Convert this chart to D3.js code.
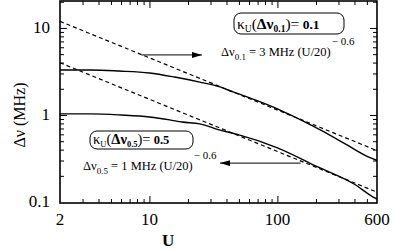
<!DOCTYPE html>
<html>
<head>
<meta charset="utf-8">
<script src="https://cdn.jsdelivr.net/npm/d3@7"></script>
<style>
  body { margin: 0; background: #fff; font-family: "Liberation Serif"; }
  text, tspan { font-family: "Liberation Serif" !important; }
</style>
</head>
<body>
<script>
const width = 394, height = 250;
const margin = { left: 60, right: 17, top: 1, bottom: 47 };
const w = width - margin.left - margin.right;
const h = height - margin.top - margin.bottom;

// solid curves
const U_upper = [2, 3.5, 5.8, 10, 15.7, 24.7, 35.6, 45, 67, 105, 152, 218, 344, 513, 600];
const v_upper = [3.29, 3.29, 3.2, 3.04, 2.73, 2.39, 2.1, 1.84, 1.49, 1.14, 0.88, 0.67, 0.46, 0.33, 0.30];
const U_lower = [2, 3.5, 6, 10, 14.4, 18, 24.7, 35.6, 48.6, 100, 207, 400, 560, 600];
const v_lower = [1.03, 1.03, 1.0, 0.95, 0.88, 0.83, 0.79, 0.67, 0.60, 0.42, 0.253, 0.16, 0.114, 0.108];
// dashed power laws (end points)
const U_fit = [2, 600];
const v_fit01 = [11.9, 0.39];
const v_fit05 = [3.98, 0.13];

const xMajor = [10, 100];
const xLabels = [2, 10, 100, 600];
const xMinor = [3, 4, 5, 6, 7, 8, 9, 20, 30, 40, 50, 60, 70, 80, 90, 200, 300, 400, 500];
const yMajor = [1, 10];
const yLabels = [0.1, 1, 10];
const yMinor = [0.2, 0.3, 0.4, 0.5, 0.6, 0.7, 0.8, 0.9, 2, 3, 4, 5, 6, 7, 8, 9, 20];

const svg = d3.select('body').append('svg')
  .attr('width', width).attr('height', height);
const g = svg.append('g').attr('transform', `translate(${margin.left},${margin.top})`);

const x = d3.scaleLog().domain([2, 600]).range([0, w]);
const y = d3.scaleLog().domain([0.0975, 20.4]).range([h, 0]);

svg.append('defs').append('marker')
  .attr('id', 'arr').attr('viewBox', '0 0 10 6')
  .attr('refX', 10).attr('refY', 3)
  .attr('markerWidth', 10).attr('markerHeight', 6)
  .attr('markerUnits', 'userSpaceOnUse').attr('orient', 'auto')
  .append('path').attr('d', 'M0,0 L10,3 L0,6 z').attr('fill', '#000');

// ticks (inside on all sides)
let tickAxis = (axis, vals, len, tr) => {
  const a = g.append('g').attr('transform', tr)
    .call(axis.tickValues(vals).tickSize(-len).tickFormat(''));
  a.select('.domain').remove();
  a.selectAll('line').attr('stroke', '#000').attr('stroke-width', 1);
};
tickAxis(d3.axisBottom(x), xMajor, 7, `translate(0,${h})`);
tickAxis(d3.axisBottom(x), xMinor, 4, `translate(0,${h})`);
tickAxis(d3.axisTop(x), xMajor, 7, 'translate(0,0)');
tickAxis(d3.axisTop(x), xMinor, 4, 'translate(0,0)');
tickAxis(d3.axisLeft(y), yMajor, 7, 'translate(0,0)');
tickAxis(d3.axisLeft(y), yMinor, 4, 'translate(0,0)');
tickAxis(d3.axisRight(y), yMajor, 7, `translate(${w},0)`);
tickAxis(d3.axisRight(y), yMinor, 4, `translate(${w},0)`);

// tick labels
g.selectAll('.xl').data(xLabels).enter().append('text')
  .attr('x', d => x(d)).attr('y', h + 22)
  .attr('text-anchor', 'middle').attr('font-size', 17).text(d => d);
g.selectAll('.yl').data(yLabels).enter().append('text')
  .attr('x', -10).attr('y', d => y(d) + 5)
  .attr('text-anchor', 'end').attr('font-size', 17).text(d => d);

// frame
g.append('rect').attr('width', w).attr('height', h)
  .attr('fill', 'none').attr('stroke', '#000').attr('stroke-width', 1.6);

const line = d3.line().x(d => x(d[0])).y(d => y(d[1])).curve(d3.curveMonotoneX);

[[U_fit, v_fit01], [U_fit, v_fit05]].forEach(([us, vs]) => {
  g.append('path').attr('d', line(d3.zip(us, vs)))
    .attr('fill', 'none').attr('stroke', '#000').attr('stroke-width', 1.2)
    .attr('stroke-dasharray', '4,3');
});
[[U_upper, v_upper], [U_lower, v_lower]].forEach(([us, vs]) => {
  g.append('path').attr('d', line(d3.zip(us, vs)))
    .attr('fill', 'none').attr('stroke', '#000').attr('stroke-width', 1.4);
});

// arrows
g.append('line').attr('x1', x(8.65)).attr('x2', x(25.7)).attr('y1', y(4.9)).attr('y2', y(4.9))
  .attr('stroke', '#000').attr('stroke-width', 1).attr('marker-end', 'url(#arr)');
g.append('line').attr('x1', x(152)).attr('x2', x(35.6)).attr('y1', y(0.28)).attr('y2', y(0.28))
  .attr('stroke', '#000').attr('stroke-width', 1).attr('marker-end', 'url(#arr)');

// annotation boxes
let kappaBox = (bx, by, bw, bh, sub, fs) => {
  svg.append('rect').attr('x', bx).attr('y', by).attr('width', bw).attr('height', bh)
    .attr('rx', 7).attr('fill', '#fff').attr('stroke', '#000').attr('stroke-width', 1);
  const t = svg.append('text').attr('x', bx + 3).attr('y', by + bh - 5).attr('font-size', fs);
  t.append('tspan').text('κ');
  t.append('tspan').attr('font-size', fs - 6).attr('dy', 3).text('U');
  t.append('tspan').attr('dy', -3).text('(');
  t.append('tspan').attr('font-weight', 'bold').text('Δν');
  t.append('tspan').attr('font-weight', 'bold').attr('font-size', fs - 6).attr('dy', 3).text(sub);
  t.append('tspan').attr('dy', -3).text(')=');
  t.append('tspan').attr('font-weight', 'bold').attr('font-size', fs - 2).text(' ' + sub);
};
kappaBox(234, 13, 110, 21, '0.1', 15.5);
kappaBox(90, 131, 103, 18, '0.5', 14.5);

let fitLabel = (tx, ty, sub, amp) => {
  const t = svg.append('text').attr('x', tx).attr('y', ty).attr('font-size', 12.5);
  t.append('tspan').text('Δν');
  t.append('tspan').attr('font-size', 9).attr('dy', 4).text(sub);
  t.append('tspan').attr('dy', -4).text(` = ${amp} MHz (U/20)`);
  t.append('tspan').attr('font-size', 11).attr('dy', -11).attr('dx', 1).text('− 0.6');
};
fitLabel(221, 56, '0.1', 3);
fitLabel(83, 170, '0.5', 1);

// axis titles
svg.append('text').attr('x', margin.left + x(14)).attr('y', 246)
  .attr('text-anchor', 'middle').attr('font-size', 17).attr('font-weight', 'bold').text('U');
svg.append('text').attr('transform', `translate(25,${margin.top + y(1)}) rotate(-90)`)
  .attr('text-anchor', 'middle').attr('font-size', 16).text('Δν (MHz)');

svg.selectAll('text').attr('font-family', 'Liberation Serif');
</script>
</body>
</html>
